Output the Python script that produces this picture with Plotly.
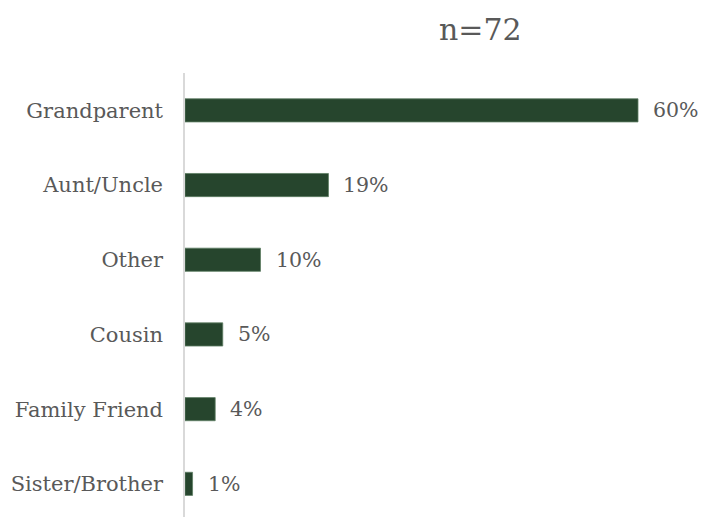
import plotly.graph_objects as go

# Relationship of the caregiver, share of respondents (n=72)
categories = ["Grandparent", "Aunt/Uncle", "Other", "Cousin", "Family Friend", "Sister/Brother"]
shares = [60, 19, 10, 5, 4, 1]
value_labels = ["60%", "19%", "10%", "5%", "4%", "1%"]

FONT = "DejaVu Serif"
TEXT_GRAY = "#595959"
BAR_GREEN = "#26452D"

fig = go.Figure(
    go.Bar(
        x=shares,
        y=categories,
        orientation="h",
        width=0.31,
        marker=dict(color=BAR_GREEN, line=dict(color="#5E7D63", width=0.8)),
        hoverinfo="skip",
    )
)

for cat, val, lab in zip(categories, shares, value_labels):
    fig.add_annotation(
        x=val, y=cat, text=lab, showarrow=False,
        xanchor="left", yanchor="middle", xshift=13,
        font=dict(family=FONT, size=20.5, color=TEXT_GRAY),
    )

# title centred at x=480px, y=30px
fig.add_annotation(
    xref="paper", x=(480 - 185) / 520, yref="paper", y=1 + (73 - 30) / 444,
    xanchor="center", yanchor="middle", text="n=72", showarrow=False,
    font=dict(family=FONT, size=30, color=TEXT_GRAY),
)

fig.update_layout(
    width=705, height=517,
    margin=dict(l=185, r=0, t=73, b=0),
    paper_bgcolor="white", plot_bgcolor="white",
    showlegend=False,
    font=dict(family=FONT, color=TEXT_GRAY),
)

fig.update_xaxes(range=[0, 520 / 7.55], visible=False, fixedrange=True)
fig.update_yaxes(
    categoryorder="array", categoryarray=categories,
    range=[-0.5 + 444 / 74.7, -0.5],
    showline=True, linecolor="#D9D9D9", linewidth=1.5,
    showgrid=False, zeroline=False, ticks="",
    ticklabelstandoff=16,
    tickfont=dict(family=FONT, size=21, color=TEXT_GRAY),
)

fig.write_html("out.html")
